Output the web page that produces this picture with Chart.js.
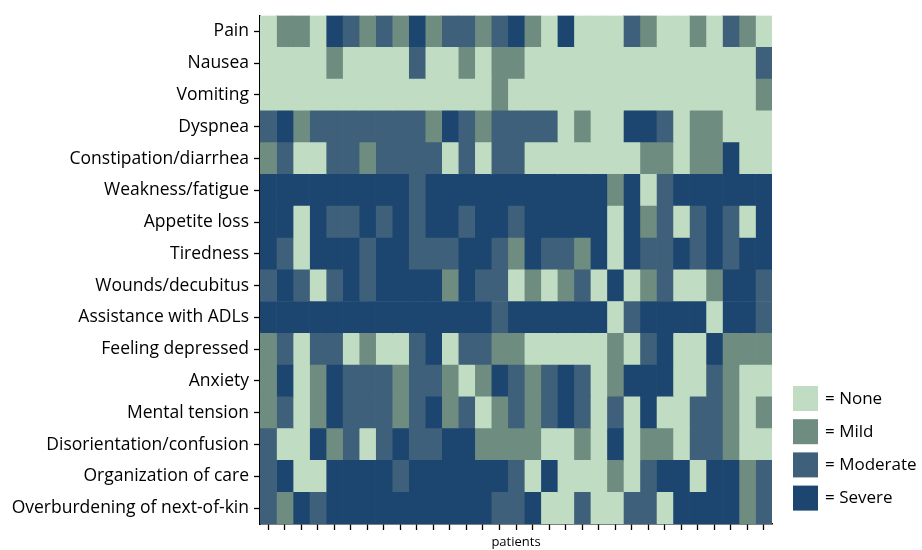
<!DOCTYPE html>
<html>
<head>
<meta charset="utf-8">
<script src="https://cdn.jsdelivr.net/npm/chart.js@4/dist/chart.umd.min.js"></script>
<style>
  html, body { margin: 0; padding: 0; background: #fff; }
  #wrap { width: 922px; height: 550px; }
</style>
</head>
<body>
<div id="wrap"><canvas id="heatChart" width="922" height="550"></canvas></div>
<script>
// Symptom rows, top to bottom
const symptoms = [
    'Pain', 'Nausea', 'Vomiting', 'Dyspnea', 'Constipation/diarrhea',
    'Weakness/fatigue', 'Appetite loss', 'Tiredness', 'Wounds/decubitus',
    'Assistance with ADLs', 'Feeling depressed', 'Anxiety', 'Mental tension',
    'Disorientation/confusion', 'Organization of care', 'Overburdening of next-of-kin'
];

// Patients (columns)
const patients = [1, 2, 3, 4, 5, 6, 7, 8, 9, 10, 11, 12, 13, 14, 15, 16,
    17, 18, 19, 20, 21, 22, 23, 24, 25, 26, 27, 28, 29, 30, 31];

// Severity levels: 0 = None, 1 = Mild, 2 = Moderate, 3 = Severe
const levels = ['None', 'Mild', 'Moderate', 'Severe'];

// One row of scores per symptom, one value per patient
const pain          = [0,1,1,0,3,2,1,2,1,3,1,2,2,1,2,3,1,0,3,0,0,0,2,1,0,0,1,0,2,1,0];
const nausea        = [0,0,0,0,1,0,0,0,0,2,0,0,1,0,1,1,0,0,0,0,0,0,0,0,0,0,0,0,0,0,2];
const vomiting      = [0,0,0,0,0,0,0,0,0,0,0,0,0,0,1,0,0,0,0,0,0,0,0,0,0,0,0,0,0,0,1];
const dyspnea       = [2,3,1,2,2,2,2,2,2,2,1,3,2,1,2,2,2,2,0,1,0,0,3,3,2,0,1,1,0,0,0];
const constipation  = [1,2,0,0,2,2,1,2,2,2,2,0,2,0,2,2,0,0,0,0,0,0,0,1,1,0,1,1,3,0,0];
const weakness      = [3,3,3,3,3,3,3,3,3,2,3,3,3,3,3,3,3,3,3,3,3,1,3,0,2,3,3,3,3,3,3];
const appetite      = [3,3,0,3,2,2,3,2,3,2,3,3,2,3,3,2,3,3,3,3,3,0,3,1,2,0,2,3,2,0,3];
const tiredness     = [3,2,0,3,3,3,2,3,3,2,2,2,3,3,2,1,3,2,2,1,3,0,3,2,2,3,2,3,2,3,3];
const wounds        = [2,3,2,0,2,3,2,3,3,3,3,1,3,2,2,0,1,0,1,2,0,3,0,1,2,0,0,1,3,3,2];
const adls          = [3,3,3,3,3,3,3,3,3,3,3,3,3,3,2,3,3,3,3,3,3,0,2,3,3,3,3,0,3,3,2];
const depressed     = [1,2,0,2,2,0,1,0,0,2,3,0,2,2,1,1,0,0,0,0,0,1,0,2,3,0,0,3,1,1,1];
const anxiety       = [1,3,0,1,3,2,2,2,1,2,2,1,0,1,3,2,1,2,3,2,0,1,3,3,3,0,0,2,1,0,0];
const tension       = [1,2,0,1,3,2,2,2,1,2,3,1,2,0,1,2,1,2,3,2,0,2,0,3,0,0,2,2,1,0,1];
const disorientation= [2,0,0,3,1,2,0,2,3,2,2,3,3,1,1,1,1,0,0,1,0,3,0,1,1,0,2,2,1,0,0];
const organization  = [2,3,0,0,3,3,3,3,2,3,3,3,3,3,3,2,0,3,0,0,0,1,0,2,3,3,0,3,3,1,2];
const overburdening = [2,1,3,2,3,3,3,3,3,3,3,3,3,3,2,2,3,0,0,2,0,0,2,2,0,3,3,3,3,1,2];

const scores = [pain, nausea, vomiting, dyspnea, constipation, weakness, appetite,
    tiredness, wounds, adls, depressed, anxiety, tension, disorientation,
    organization, overburdening];

const levelColors = ['#c0dcc2', '#6e8c7f', '#3f607b', '#1c466f'];
const fontFamily = '"Open Sans", "DejaVu Sans", sans-serif';

// One floating-bar dataset per patient: each cell spans [i, i + 1] on x
const datasets = patients.map((p, i) => ({
    label: 'Patient ' + p,
    data: symptoms.map(() => [i, i + 1]),
    backgroundColor: scores.map(row => levelColors[row[i]]),
    borderWidth: 0,
    grouped: false,
    barPercentage: 1,
    categoryPercentage: 1
}));

// Legend drawn in the lower right corner
const severityLegend = {
    id: 'severityLegend',
    afterDraw(chart) {
        const ctx = chart.ctx;
        ctx.save();
        ctx.font = '17px ' + fontFamily;
        ctx.textBaseline = 'middle';
        levels.forEach((lvl, k) => {
            const y = 386 + k * 33.2;
            ctx.fillStyle = levelColors[k];
            ctx.fillRect(793, y, 25, 25);
            ctx.fillStyle = '#000';
            ctx.fillText('= ' + lvl, 825, y + 13);
        });
        ctx.restore();
    }
};

new Chart(document.getElementById('heatChart').getContext('2d'), {
    type: 'bar',
    data: {
        labels: symptoms,
        datasets: datasets
    },
    options: {
        indexAxis: 'y',
        responsive: false,
        animation: false,
        layout: {
            padding: { left: 0, top: 13, right: 150, bottom: 0 }
        },
        plugins: {
            legend: { display: false },
            tooltip: { enabled: false }
        },
        scales: {
            x: {
                type: 'linear',
                min: 0,
                max: patients.length,
                afterBuildTicks: scale => {
                    scale.ticks = patients.map((p, i) => ({ value: i + 0.5 }));
                },
                afterFit: scale => { scale.height = 26; },
                ticks: {
                    callback: () => '',
                    padding: 0
                },
                grid: {
                    drawOnChartArea: false,
                    tickLength: 6,
                    tickColor: '#000',
                    tickWidth: 1.3
                },
                border: { display: true, color: '#000', width: 1.5 },
                title: {
                    display: true,
                    text: 'patients',
                    color: '#000',
                    font: { family: fontFamily, size: 13 },
                    padding: 0
                }
            },
            y: {
                type: 'category',
                afterFit: scale => { scale.width = 260; },
                ticks: {
                    color: '#000',
                    font: { family: fontFamily, size: 17.5 },
                    padding: 5
                },
                grid: {
                    offset: false,
                    drawOnChartArea: false,
                    tickLength: 6,
                    tickColor: '#000',
                    tickWidth: 1.3
                },
                border: { display: true, color: '#000', width: 1.5 }
            }
        }
    },
    plugins: [severityLegend]
});
</script>
</body>
</html>
